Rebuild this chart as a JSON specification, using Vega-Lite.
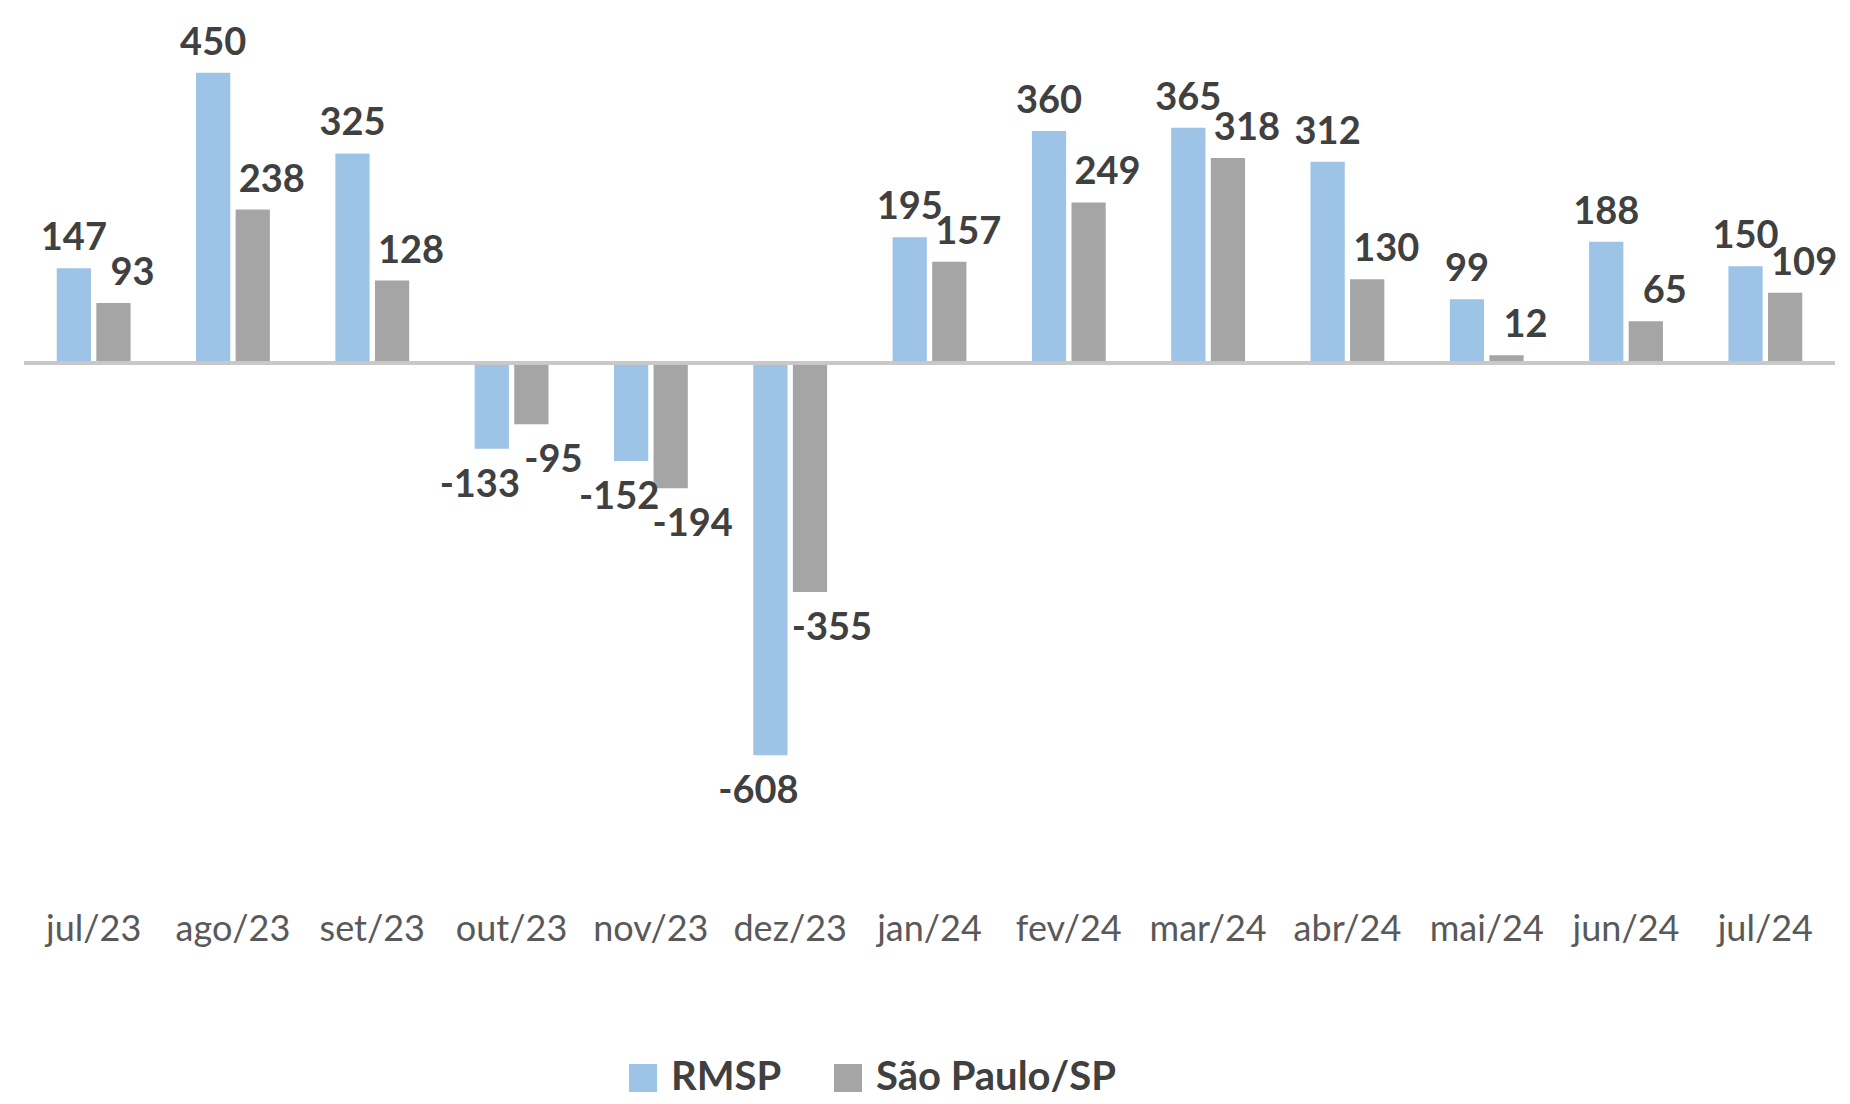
{
  "$schema": "https://vega.github.io/schema/vega-lite/v6.json",
  "width": 1811,
  "height": 879,
  "autosize": {"type": "none"},
  "padding": {"left": 24, "top": 0, "right": 15, "bottom": 225},
  "background": "white",
  "config": {"view": {"stroke": null}, "font": "Lato"},
  "data": {
    "values": [
      {"mes": "jul/23", "serie": "RMSP", "valor": 147},
      {"mes": "jul/23", "serie": "São Paulo/SP", "valor": 93},
      {"mes": "ago/23", "serie": "RMSP", "valor": 450},
      {"mes": "ago/23", "serie": "São Paulo/SP", "valor": 238},
      {"mes": "set/23", "serie": "RMSP", "valor": 325},
      {"mes": "set/23", "serie": "São Paulo/SP", "valor": 128},
      {"mes": "out/23", "serie": "RMSP", "valor": -133},
      {"mes": "out/23", "serie": "São Paulo/SP", "valor": -95},
      {"mes": "nov/23", "serie": "RMSP", "valor": -152},
      {"mes": "nov/23", "serie": "São Paulo/SP", "valor": -194},
      {"mes": "dez/23", "serie": "RMSP", "valor": -608},
      {"mes": "dez/23", "serie": "São Paulo/SP", "valor": -355},
      {"mes": "jan/24", "serie": "RMSP", "valor": 195},
      {"mes": "jan/24", "serie": "São Paulo/SP", "valor": 157},
      {"mes": "fev/24", "serie": "RMSP", "valor": 360},
      {"mes": "fev/24", "serie": "São Paulo/SP", "valor": 249},
      {"mes": "mar/24", "serie": "RMSP", "valor": 365},
      {"mes": "mar/24", "serie": "São Paulo/SP", "valor": 318},
      {"mes": "abr/24", "serie": "RMSP", "valor": 312},
      {"mes": "abr/24", "serie": "São Paulo/SP", "valor": 130},
      {"mes": "mai/24", "serie": "RMSP", "valor": 99},
      {"mes": "mai/24", "serie": "São Paulo/SP", "valor": 12},
      {"mes": "jun/24", "serie": "RMSP", "valor": 188},
      {"mes": "jun/24", "serie": "São Paulo/SP", "valor": 65},
      {"mes": "jul/24", "serie": "RMSP", "valor": 150},
      {"mes": "jul/24", "serie": "São Paulo/SP", "valor": 109}
    ]
  },
  "encoding": {
    "x": {
      "field": "mes",
      "type": "nominal",
      "sort": ["jul/23", "ago/23", "set/23", "out/23", "nov/23", "dez/23", "jan/24", "fev/24", "mar/24", "abr/24", "mai/24", "jun/24", "jul/24"],
      "scale": {"paddingInner": 0.47, "paddingOuter": 0.235},
      "axis": {
        "title": null,
        "labelAngle": 0,
        "domain": false,
        "ticks": false,
        "labelFont": "Lato",
        "labelFontSize": 36,
        "labelColor": "#595959",
        "labelPadding": 33
      }
    },
    "xOffset": {
      "field": "serie",
      "type": "nominal",
      "scale": {"paddingInner": 0.135, "paddingOuter": 0}
    },
    "y": {
      "field": "valor",
      "type": "quantitative",
      "scale": {"domain": [-800, 563], "nice": false},
      "axis": null
    }
  },
  "layer": [
    {
      "mark": {"type": "bar"},
      "encoding": {
        "color": {
          "field": "serie",
          "type": "nominal",
          "scale": {"domain": ["RMSP", "São Paulo/SP"], "range": ["#9DC3E6", "#A5A5A5"]},
          "legend": {
            "orient": "none",
            "legendX": 599,
            "legendY": 1058,
            "direction": "horizontal",
            "title": null,
            "symbolType": "square",
            "symbolSize": 784,
            "symbolStrokeWidth": 0,
            "labelFont": "Lato",
            "labelFontSize": 40,
            "labelFontWeight": "bold",
            "labelColor": "#404040",
            "labelOffset": 8,
            "columnPadding": 46,
            "labelLimit": 400
          }
        }
      }
    },
    {
      "transform": [{"filter": "datum.serie == 'RMSP' && datum.valor >= 0"}],
      "mark": {"type": "text", "font": "Lato", "fontSize": 38, "fontWeight": "bold", "color": "#404040", "baseline": "alphabetic", "dy": -18},
      "encoding": {"text": {"field": "valor", "type": "nominal"}}
    },
    {
      "transform": [{"filter": "datum.serie == 'RMSP' && datum.valor < 0"}],
      "mark": {"type": "text", "font": "Lato", "fontSize": 38, "fontWeight": "bold", "color": "#404040", "baseline": "top", "dy": 18, "dx": -12},
      "encoding": {"text": {"field": "valor", "type": "nominal"}}
    },
    {
      "transform": [{"filter": "datum.serie == 'São Paulo/SP' && datum.valor >= 0"}],
      "mark": {"type": "text", "font": "Lato", "fontSize": 38, "fontWeight": "bold", "color": "#404040", "baseline": "alphabetic", "dy": -18, "dx": 19},
      "encoding": {"text": {"field": "valor", "type": "nominal"}}
    },
    {
      "transform": [{"filter": "datum.serie == 'São Paulo/SP' && datum.valor < 0"}],
      "mark": {"type": "text", "font": "Lato", "fontSize": 38, "fontWeight": "bold", "color": "#404040", "baseline": "top", "dy": 18, "dx": 22},
      "encoding": {"text": {"field": "valor", "type": "nominal"}}
    },
    {
      "mark": {"type": "rule", "color": "#c8c8c8", "strokeWidth": 3},
      "encoding": {
        "x": null,
        "xOffset": null,
        "y": {"datum": 0}
      }
    }
  ]
}
